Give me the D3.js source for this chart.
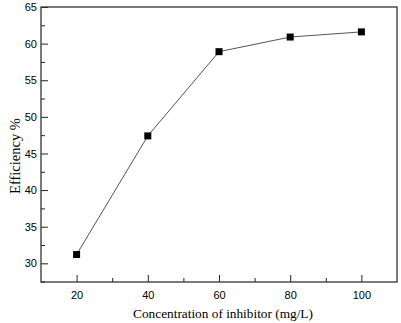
<!DOCTYPE html>
<html>
<head>
<meta charset="utf-8">
<script src="https://cdnjs.cloudflare.com/ajax/libs/d3/7.8.5/d3.min.js"></script>
<style>
  body { margin: 0; background: #fff; }
  .tick text { font-family: "Liberation Sans", Arial, sans-serif; font-size: 11px; fill: #000; }
  .axis-title { font-family: "Liberation Serif", "Times New Roman", serif; fill: #000; }
</style>
</head>
<body>
<div id="chart"></div>
<script>
// data
var concentrations = [20, 40, 60, 80, 100];
var efficiency     = [31.2, 47.4, 58.9, 60.9, 61.6];
var xTicks = [20, 40, 60, 80, 100];
var yTicks = [30, 35, 40, 45, 50, 55, 60, 65];

var W = 401, H = 323;
var margin = { top: 7, right: 4, bottom: 41, left: 41 };
var width  = W - margin.left - margin.right,
    height = H - margin.top - margin.bottom;

var x = d3.scaleLinear().domain([10, 110]).range([0, width]);
var y = d3.scaleLinear().domain([27.45, 65]).range([height, 0]);

var svg = d3.select("#chart").append("svg")
    .attr("width", W)
    .attr("height", H);

var g = svg.append("g")
    .attr("transform", "translate(" + margin.left + "," + margin.top + ")");

// minor ticks
g.append("g")
    .attr("transform", "translate(0," + height + ")")
    .call(d3.axisBottom(x).tickValues([30, 50, 70, 90]).tickSize(-4).tickFormat(""))
    .call(function(s) { s.select(".domain").remove(); });
g.append("g")
    .call(d3.axisLeft(y).tickValues(d3.range(27.5, 65, 5)).tickSize(-4).tickFormat(""))
    .call(function(s) { s.select(".domain").remove(); });

// major ticks, pointing inwards
var xAxis = g.append("g")
    .attr("transform", "translate(0," + height + ")")
    .call(d3.axisBottom(x).tickValues(xTicks).tickSize(-7).tickPadding(9));
xAxis.select(".domain").remove();

var yAxis = g.append("g")
    .call(d3.axisLeft(y).tickValues(yTicks).tickSize(-7).tickPadding(4));
yAxis.select(".domain").remove();
yAxis.selectAll(".tick text").attr("x", -4);

g.selectAll(".tick line").attr("stroke", "#222");

// frame
g.append("rect")
    .attr("width", width)
    .attr("height", height)
    .attr("fill", "none")
    .attr("stroke", "#333")
    .attr("stroke-width", 1.3);

// line + markers
var pts = concentrations.map(function(c, i) { return [c, efficiency[i]]; });
g.append("path")
    .datum(pts)
    .attr("fill", "none")
    .attr("stroke", "#555")
    .attr("stroke-width", 1)
    .attr("d", d3.line().x(function(d) { return x(d[0]); }).y(function(d) { return y(d[1]); }));

g.selectAll(".pt")
    .data(pts)
    .enter().append("rect")
    .attr("class", "pt")
    .attr("x", function(d) { return x(d[0]) - 3.5; })
    .attr("y", function(d) { return y(d[1]) - 3.5; })
    .attr("width", 7)
    .attr("height", 7)
    .attr("fill", "#000");

// axis titles
svg.append("text")
    .attr("class", "axis-title")
    .attr("text-anchor", "middle")
    .style("font-size", "13.3px")
    .attr("x", 223)
    .attr("y", 318)
    .text("Concentration of inhibitor (mg/L)");

svg.append("text")
    .attr("class", "axis-title")
    .attr("text-anchor", "middle")
    .style("font-size", "14.5px")
    .attr("transform", "translate(20,156) rotate(-90)")
    .text("Efficiency %");
</script>
</body>
</html>
